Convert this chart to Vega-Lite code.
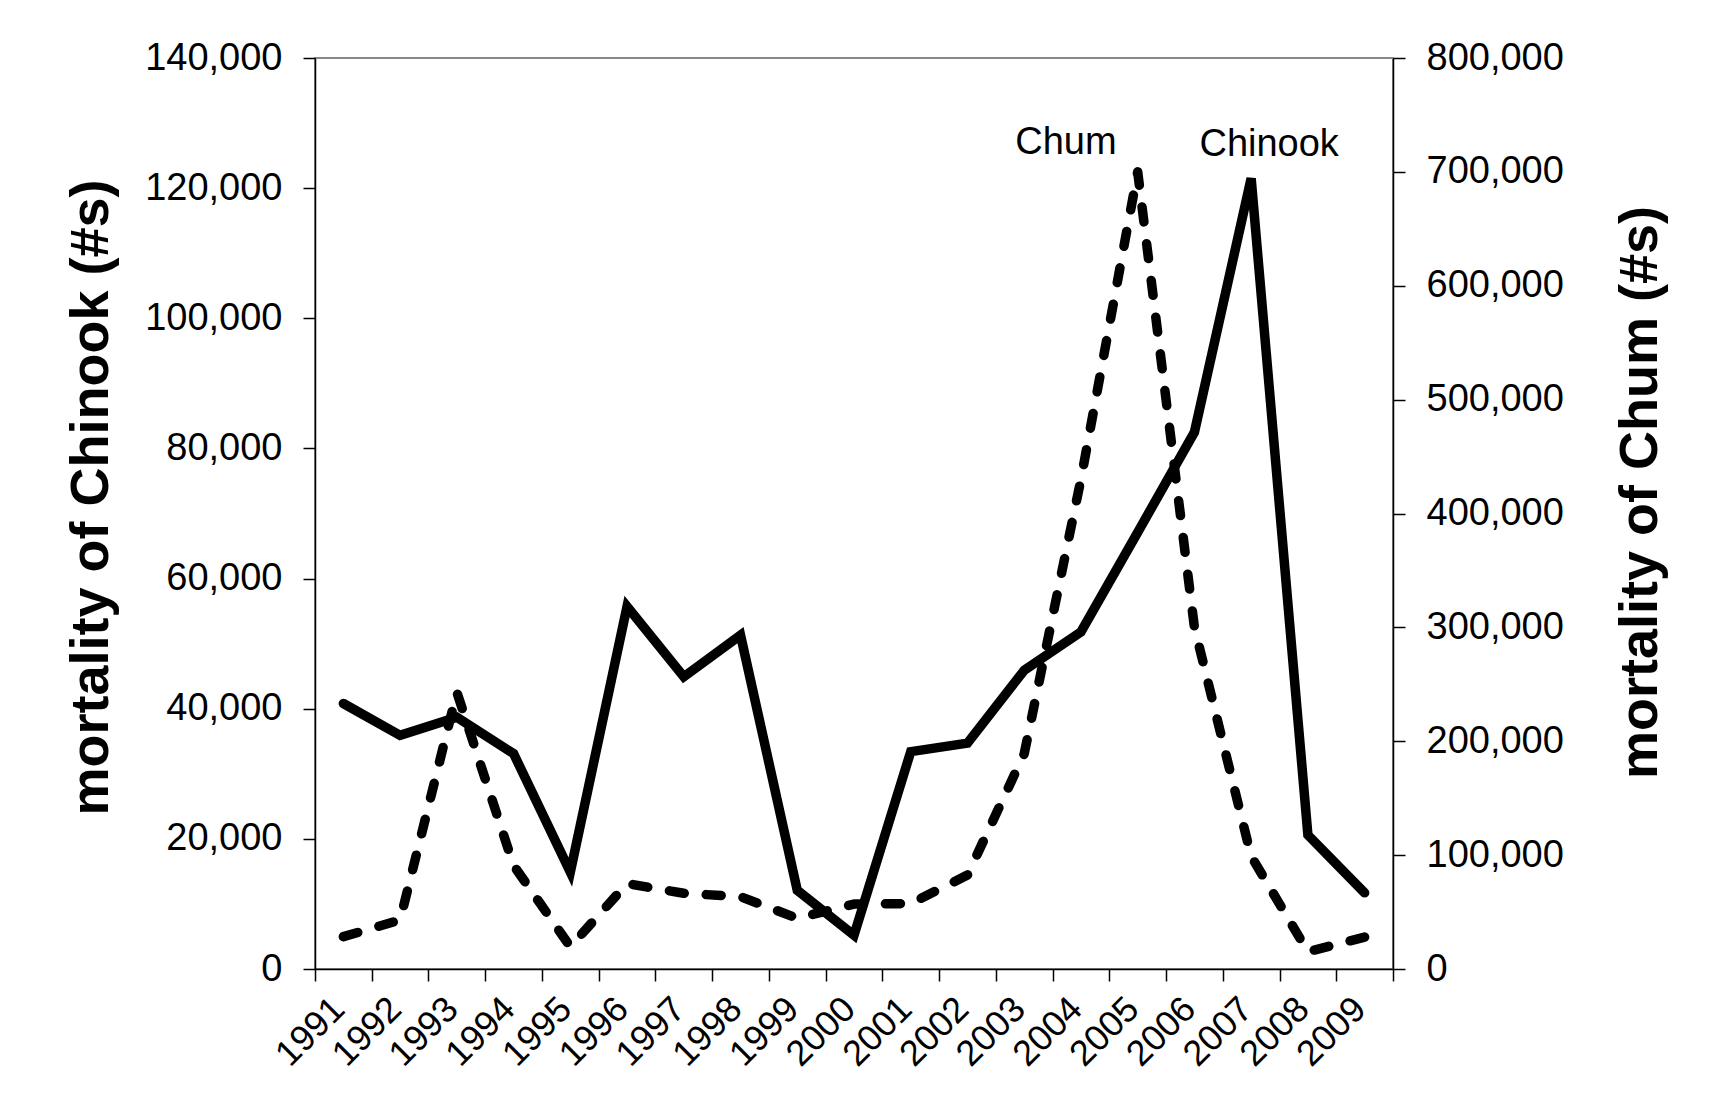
{
  "$schema": "https://vega.github.io/schema/vega-lite/v6.json",
  "autosize": {"type": "none"},
  "padding": {"left": 315, "top": 58, "right": 340, "bottom": 135},
  "width": 1078,
  "height": 911,
  "background": "white",
  "config": {
    "view": {"stroke": "#888888", "strokeWidth": 2},
    "font": "Liberation Sans",
    "axis": {
      "domainColor": "black",
      "domainWidth": 1.5,
      "tickColor": "black",
      "tickWidth": 1.5,
      "tickSize": 12,
      "labelFont": "Liberation Sans",
      "labelColor": "black",
      "titleFont": "Liberation Sans",
      "titleColor": "black",
      "grid": false
    }
  },
  "datasets": {
    "salmon": [
      {"year": "1991", "chinook": 40800, "chum": 28400},
      {"year": "1992", "chinook": 35900, "chum": 43000},
      {"year": "1993", "chinook": 38700, "chum": 243000},
      {"year": "1994", "chinook": 33100, "chum": 91000},
      {"year": "1995", "chinook": 14900, "chum": 19600},
      {"year": "1996", "chinook": 55700, "chum": 75000},
      {"year": "1997", "chinook": 44900, "chum": 66500},
      {"year": "1998", "chinook": 51300, "chum": 63500},
      {"year": "1999", "chinook": 12100, "chum": 44500},
      {"year": "2000", "chinook": 5200, "chum": 57000},
      {"year": "2001", "chinook": 33400, "chum": 57500},
      {"year": "2002", "chinook": 34700, "chum": 82500},
      {"year": "2003", "chinook": 45900, "chum": 189000},
      {"year": "2004", "chinook": 51800, "chum": 430000},
      {"year": "2005", "chinook": 67100, "chum": 700000},
      {"year": "2006", "chinook": 82500, "chum": 300000},
      {"year": "2007", "chinook": 121500, "chum": 99000},
      {"year": "2008", "chinook": 20600, "chum": 15200},
      {"year": "2009", "chinook": 11700, "chum": 28000}
    ],
    "notes": [
      {"year": "2004", "chinook": 127000, "label": "Chum"},
      {"year": "2007", "chinook": 126600, "label": "Chinook"}
    ]
  },
  "layer": [
    {
      "layer": [
        {
          "data": {"name": "salmon"},
          "mark": {"type": "line", "color": "black", "strokeWidth": 9.5, "strokeJoin": "miter", "strokeCap": "round"},
          "encoding": {
            "x": {
              "field": "year", "type": "ordinal", "sort": "ascending",
              "scale": {"paddingInner": 0, "paddingOuter": 0},
              "axis": {"title": null, "labelAngle": -45, "labelFontSize": 36, "tickBand": "extent", "labelPadding": 10, "labelOffset": -17}
            },
            "y": {
              "field": "chinook", "type": "quantitative",
              "scale": {"domain": [0, 140000], "nice": false},
              "axis": {
                "title": "mortality of Chinook (#s)",
                "titleFontSize": 54, "titleFontWeight": "bold", "titlePadding": 26, "titleY": 439,
                "labelFontSize": 38, "labelPadding": 21, "format": ",d",
                "values": [0, 20000, 40000, 60000, 80000, 100000, 120000, 140000]
              }
            }
          }
        },
        {
          "data": {"name": "notes"},
          "transform": [{"filter": "datum.label == 'Chum'"}],
          "mark": {"type": "text", "fontSize": 38, "font": "Liberation Sans", "color": "black", "baseline": "middle", "align": "center", "dx": -15},
          "encoding": {
            "x": {"field": "year", "type": "ordinal", "sort": "ascending"},
            "y": {"field": "chinook", "type": "quantitative"},
            "text": {"field": "label", "type": "nominal"}
          }
        },
        {
          "data": {"name": "notes"},
          "transform": [{"filter": "datum.label == 'Chinook'"}],
          "mark": {"type": "text", "fontSize": 38, "font": "Liberation Sans", "color": "black", "baseline": "middle", "align": "center", "dx": 18},
          "encoding": {
            "x": {"field": "year", "type": "ordinal", "sort": "ascending"},
            "y": {"field": "chinook", "type": "quantitative"},
            "text": {"field": "label", "type": "nominal"}
          }
        }
      ]
    },
    {
      "data": {"name": "salmon"},
      "mark": {"type": "line", "color": "black", "strokeWidth": 9.5, "strokeDash": [15, 22], "strokeCap": "round", "strokeJoin": "round"},
      "encoding": {
        "x": {"field": "year", "type": "ordinal", "sort": "ascending"},
        "y": {
          "field": "chum", "type": "quantitative",
          "scale": {"domain": [0, 800000], "nice": false},
          "axis": {
            "orient": "right",
            "title": "mortality of Chum (#s)",
            "titleFontSize": 54, "titleFontWeight": "bold", "titlePadding": 50, "titleY": 434,
            "titleAngle": 270, "titleBaseline": "top",
            "labelFontSize": 38, "labelPadding": 21, "format": ",d",
            "values": [0, 100000, 200000, 300000, 400000, 500000, 600000, 700000, 800000]
          }
        }
      }
    }
  ],
  "resolve": {"scale": {"y": "independent"}}
}
